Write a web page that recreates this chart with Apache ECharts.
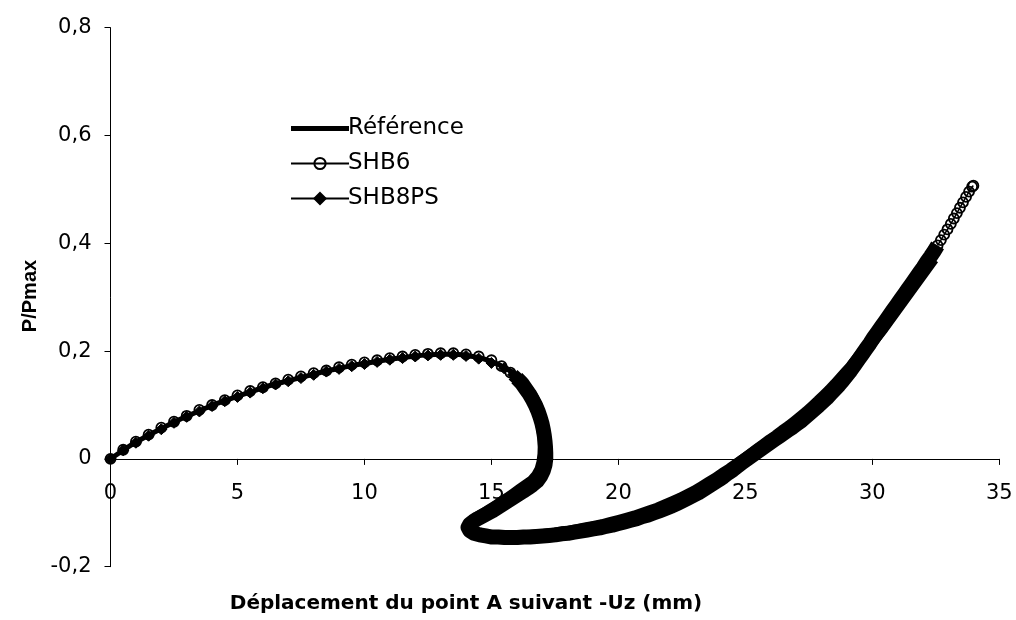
<!DOCTYPE html>
<html>
<head>
<meta charset="utf-8">
<script src="https://cdn.jsdelivr.net/npm/echarts@6/dist/echarts.min.js"></script>
<style>
html,body{margin:0;padding:0;background:#fff;}
#chart{width:1016px;height:620px;}
</style>
</head>
<body>
<div id="chart"></div>
<script>
// Tick settings
var xTicks = {min: 0, max: 35, step: 5};
var yTicks = {min: -0.2, max: 0.8, step: 0.2};
var seriesNames = ['Référence', 'SHB6', 'SHB8PS'];
var xTitle = 'Déplacement du point A suivant -Uz (mm)';
var yTitle = 'P/Pmax';

// Référence curve [Uz, P/Pmax]
var refCurve = [
[0,0],[0.5,0.016],[1,0.031],[1.5,0.044],[2,0.056],[2.5,0.068],[3,0.079],[3.5,0.089],[4,0.099],[4.5,0.108],
[5,0.116],[5.5,0.124],[6,0.132],[6.5,0.139],[7,0.145],[7.5,0.151],[8,0.157],[8.5,0.163],[9,0.168],[9.5,0.173],
[10,0.177],[10.5,0.181],[11,0.185],[11.5,0.188],[12,0.191],[12.5,0.193],[13,0.194],[13.5,0.194],[14,0.192],[14.5,0.188],
[15,0.181],[15.5,0.170],[15.9,0.158],[16.2,0.147],[16.5,0.125],[16.75,0.100],[16.9,0.080],[17.0,0.060],[17.07,0.040],[17.1,0.020],
[17.1,0.000],[17.05,-0.015],[16.95,-0.028],[16.79,-0.042],[16.2,-0.060],[15.8,-0.072],[15.0,-0.095],[14.5,-0.107],[14.2,-0.116],[14.05,-0.122],
[14.15,-0.131],[14.45,-0.138],[14.9,-0.143],[15.5,-0.145],[16.0,-0.145],[16.5,-0.144],[17,-0.142],[17.5,-0.140],[18,-0.137],[18.5,-0.133],
[19,-0.129],[19.5,-0.124],[20,-0.118],[20.5,-0.112],[21,-0.105],[21.5,-0.097],[22,-0.088],[22.5,-0.077],[23,-0.065],[23.5,-0.051],
[24,-0.035],[24.5,-0.018],[25,-0.001],[25.5,0.015],[26,0.031],[26.5,0.047],[27,0.063],[27.5,0.083],[28,0.103],[28.5,0.129],
[29,0.155],[29.5,0.188],[30,0.222],[30.5,0.255],[31,0.289],[31.5,0.322],[32,0.356],[32.4,0.383]
];

// SHB6 curve [Uz, P/Pmax]
var shb6Curve = [
[0,0],[0.5,0.017],[1,0.032],[1.5,0.045],[2,0.058],[2.5,0.069],[3,0.080],[3.5,0.091],[4,0.100],[4.5,0.109],
[5,0.118],[5.5,0.126],[6,0.133],[6.5,0.140],[7,0.147],[7.5,0.153],[8,0.159],[8.5,0.164],[9,0.170],[9.5,0.175],
[10,0.179],[10.5,0.183],[11,0.187],[11.5,0.190],[12,0.193],[12.5,0.195],[13,0.196],[13.5,0.196],[14,0.194],[14.5,0.190],
[15,0.183],[15.4,0.172],[15.75,0.160],
[16.0,0.150],[16.2,0.140],[16.35,0.130],[16.5,0.120],[16.62,0.110],[16.74,0.099],[16.84,0.088],[16.92,0.077],[16.99,0.066],[17.04,0.055],
[17.08,0.044],[17.11,0.033],[17.13,0.022],[17.14,0.011],[17.14,0.000],[17.11,-0.011],[17.04,-0.022],[16.94,-0.032],[16.80,-0.041],[16.62,-0.048],
[16.44,-0.054],[16.25,-0.060],[16.05,-0.066],[15.85,-0.072],[15.65,-0.078],[15.45,-0.084],[15.25,-0.090],[15.05,-0.096],[14.85,-0.101],[14.65,-0.106],
[14.46,-0.111],[14.29,-0.116],[14.15,-0.121],[14.08,-0.127],[14.15,-0.133],[14.32,-0.138],[14.54,-0.141],[14.78,-0.143],[15.02,-0.145],[15.27,-0.145],
[15.52,-0.146],[15.77,-0.146],[16.02,-0.146],[16.27,-0.145],[16.52,-0.145],[16.77,-0.144],[17.02,-0.143],[17.27,-0.142],[17.52,-0.141],[17.77,-0.139],
[18.02,-0.138],[18.27,-0.136],[18.52,-0.134],[18.77,-0.132],[19.02,-0.130],[19.27,-0.128],[19.52,-0.125],[19.76,-0.123],[20.0,-0.120],[20.24,-0.117],
[20.48,-0.114],[20.72,-0.111],[20.95,-0.107],[21.18,-0.104],[21.41,-0.100],[21.64,-0.096],[21.86,-0.092],[22.08,-0.088],[22.3,-0.083],[22.52,-0.078],
[22.73,-0.073],[22.94,-0.068],[23.15,-0.063],[23.35,-0.057],[23.55,-0.051],[23.75,-0.045],[23.95,-0.039],[24.14,-0.033],[24.33,-0.026],[24.52,-0.020],
[24.71,-0.013],[24.9,-0.006],[25.08,0.000],[25.26,0.006],[25.44,0.012],[25.62,0.018],[25.8,0.024],[25.98,0.030],[26.16,0.036],[26.34,0.042],
[26.52,0.048],[26.7,0.054],[26.87,0.059],[27.04,0.065],[27.21,0.071],[27.38,0.078],[27.55,0.085],[27.72,0.092],[27.89,0.099],[28.05,0.106],
[28.21,0.113],[28.37,0.121],[28.53,0.129],[28.69,0.137],[28.85,0.146],[29.0,0.155],[29.15,0.164],[29.3,0.174],[29.45,0.184],[29.6,0.194],
[29.75,0.204],[29.9,0.214],[30.05,0.225],[30.2,0.235],[30.35,0.245],[30.5,0.255],[30.65,0.265],[30.8,0.275],[30.95,0.285],[31.1,0.295],
[31.25,0.305],[31.4,0.315],[31.55,0.325],[31.7,0.335],[31.85,0.345],[32.0,0.355],[32.15,0.366],[32.3,0.376],[32.44,0.386],[32.57,0.396],
[32.7,0.406],[32.83,0.416],[32.96,0.426],[33.09,0.436],[33.21,0.446],[33.33,0.456],[33.45,0.466],[33.57,0.476],[33.69,0.486],[33.81,0.496],
[33.93,0.505],[33.98,0.507]
];

// SHB8PS curve [Uz, P/Pmax]
var shb8psCurve = [
[0,0],[0.5,0.016],[1,0.030],[1.5,0.043],[2,0.055],[2.5,0.067],[3,0.078],[3.5,0.088],[4,0.098],[4.5,0.107],
[5,0.115],[5.5,0.123],[6,0.131],[6.5,0.138],[7,0.144],[7.5,0.150],[8,0.156],[8.5,0.162],[9,0.167],[9.5,0.172],
[10,0.176],[10.5,0.180],[11,0.184],[11.5,0.187],[12,0.190],[12.5,0.192],[13,0.193],[13.5,0.193],[14,0.191],[14.5,0.186],
[15,0.178],[15.5,0.168],[15.85,0.156],[16.15,0.143],[16.4,0.128],[16.6,0.114],[16.76,0.099],[16.88,0.084],[16.97,0.069],[17.03,0.054],
[17.07,0.039],[17.08,0.024],[17.07,0.009],[17.03,-0.006],[16.95,-0.020],[16.81,-0.032],[16.62,-0.042],[16.38,-0.050],[16.14,-0.058],[15.9,-0.066],
[15.66,-0.074],[15.42,-0.081],[15.18,-0.089],[14.94,-0.096],[14.7,-0.103],[14.48,-0.109],[14.28,-0.115],[14.14,-0.121],[14.1,-0.128],[14.2,-0.135],
[14.45,-0.140],[14.75,-0.143],[15.07,-0.144],[15.4,-0.145],[15.73,-0.145],[16.06,-0.145],[16.39,-0.144],[16.72,-0.143],[17.05,-0.142],[17.38,-0.140],
[17.71,-0.138],[18.04,-0.136],[18.37,-0.133],[18.7,-0.130],[19.03,-0.127],[19.36,-0.124],[19.68,-0.120],[20.0,-0.116],[20.32,-0.112],[20.63,-0.108],
[20.94,-0.103],[21.25,-0.098],[21.55,-0.093],[21.85,-0.087],[22.15,-0.081],[22.44,-0.075],[22.73,-0.068],[23.02,-0.061],[23.3,-0.053],[23.58,-0.045],
[23.86,-0.037],[24.13,-0.028],[24.4,-0.020],[24.67,-0.011],[24.94,-0.002],[25.2,0.007],[25.46,0.016],[25.72,0.025],[25.98,0.034],[26.23,0.042],
[26.48,0.051],[26.72,0.059],[26.96,0.068],[27.2,0.077],[27.43,0.086],[27.66,0.096],[27.89,0.106],[28.11,0.116],[28.33,0.126],[28.55,0.137],
[28.76,0.148],[28.97,0.159],[29.18,0.170],[29.38,0.182],[29.58,0.194],[29.78,0.206],[29.98,0.218],[30.18,0.230],[30.38,0.242],[30.58,0.255],
[30.78,0.268],[30.98,0.281],[31.18,0.294],[31.38,0.307],[31.58,0.320],[31.78,0.333],[31.98,0.346],[32.18,0.359],[32.38,0.372]
];

// Where the model points become so dense that their markers merge into a solid band
var shb6DenseFrom = 33;   // index of [16.0, 0.150]
var shb6DenseTo = 162;    // index of [32.44, 0.386]
var shb8DenseFrom = 32;   // index of [15.85, 0.156]

var LABEL_FONT = '"DejaVu Sans", "Liberation Sans", Arial, sans-serif';
var TITLE_FONT = '"Liberation Sans", Arial, sans-serif';
var chart = echarts.init(document.getElementById('chart'), null, {renderer: 'canvas'});

function fmtComma(v) {
  var r = Math.round(v * 10) / 10;
  return String(r).replace('.', ',');
}

var gridBottomPx = 620 - 53.3;
var gridTopPx = 27.7;
var zeroFrac = (0 - yTicks.min) / (yTicks.max - yTicks.min);
var xAxisOffset = -(gridBottomPx - gridTopPx) * zeroFrac;

var circleItem = {color: 'rgba(255,255,255,0)', borderColor: '#000', borderWidth: 1.8};
var thin = {color: '#000', width: 1.5};
var band = {color: '#000', width: 15, cap: 'butt', join: 'round'};

var option = {
  backgroundColor: '#ffffff',
  animation: false,
  grid: {left: 110.5, right: 16.7, top: gridTopPx, bottom: 53.3, containLabel: false},
  legend: {
    orient: 'vertical',
    left: 285,
    top: 112,
    itemWidth: 58,
    itemHeight: 14,
    itemGap: 12,
    symbolKeepAspect: true,
    data: [
      {name: seriesNames[0], icon: 'path://M0,0 L58,0 L58,5 L0,5 Z'},
      {name: seriesNames[1]},
      {name: seriesNames[2]}
    ],
    textStyle: {fontFamily: LABEL_FONT, fontSize: 23, color: '#000', padding: [0, 0, 0, -6]},
    inactiveColor: '#000'
  },
  xAxis: {
    type: 'value',
    min: xTicks.min, max: xTicks.max, interval: xTicks.step,
    offset: xAxisOffset,
    axisLine: {onZero: false, lineStyle: {color: '#000', width: 1}},
    axisTick: {show: true, inside: false, length: 6, lineStyle: {color: '#000'}},
    axisLabel: {fontFamily: LABEL_FONT, fontSize: 21, color: '#000', margin: 24},
    splitLine: {show: false}
  },
  yAxis: {
    type: 'value',
    min: yTicks.min, max: yTicks.max, interval: yTicks.step,
    axisLine: {show: true, onZero: false, lineStyle: {color: '#000', width: 1}},
    axisTick: {show: true, inside: false, length: 6, lineStyle: {color: '#000'}},
    axisLabel: {fontFamily: LABEL_FONT, fontSize: 21, color: '#000', margin: 19, formatter: fmtComma},
    splitLine: {show: false}
  },
  graphic: [
    {type: 'text', x: 466, y: 604, silent: true,
     style: {text: xTitle, fontFamily: LABEL_FONT, fontSize: 20, fontWeight: 'bold', fill: '#000', align: 'center', verticalAlign: 'middle'}},
    {type: 'text', x: 30, y: 296, rotation: Math.PI / 2, silent: true,
     style: {text: yTitle, fontFamily: TITLE_FONT, fontSize: 20, fontWeight: 'bold', fill: '#000', align: 'center', verticalAlign: 'middle'}}
  ],
  series: [
    {
      name: seriesNames[1], type: 'line', z: 2,
      data: shb6Curve.slice(0, shb6DenseFrom + 1),
      symbol: 'circle', symbolSize: 10,
      lineStyle: thin, itemStyle: circleItem,
      emphasis: {disabled: true}
    },
    {
      name: seriesNames[1], type: 'line', z: 2,
      data: shb6Curve.slice(shb6DenseFrom, shb6DenseTo + 1),
      showSymbol: false, symbol: 'none',
      lineStyle: band,
      emphasis: {disabled: true}
    },
    {
      name: seriesNames[1], type: 'line', z: 5,
      data: shb6Curve.slice(shb6DenseTo),
      symbol: 'circle', symbolSize: 10,
      lineStyle: thin, itemStyle: circleItem,
      emphasis: {disabled: true}
    },
    {
      name: seriesNames[2], type: 'line', z: 3,
      data: shb8psCurve.slice(0, shb8DenseFrom + 1),
      symbol: 'diamond', symbolSize: 11,
      lineStyle: thin,
      itemStyle: {color: '#000', borderColor: '#000', borderWidth: 1},
      emphasis: {disabled: true}
    },
    {
      name: seriesNames[2], type: 'line', z: 3,
      data: shb8psCurve.slice(shb8DenseFrom),
      showSymbol: false, symbol: 'none',
      lineStyle: {color: '#000', width: 13, cap: 'butt', join: 'round'},
      emphasis: {disabled: true}
    },
    {
      name: seriesNames[0], type: 'line', z: 4,
      data: refCurve,
      showSymbol: false, symbol: 'none',
      smooth: 0.2,
      lineStyle: {color: '#000', width: 5},
      itemStyle: {color: '#000'},
      emphasis: {disabled: true}
    }
  ]
};
chart.setOption(option);
</script>
</body>
</html>
